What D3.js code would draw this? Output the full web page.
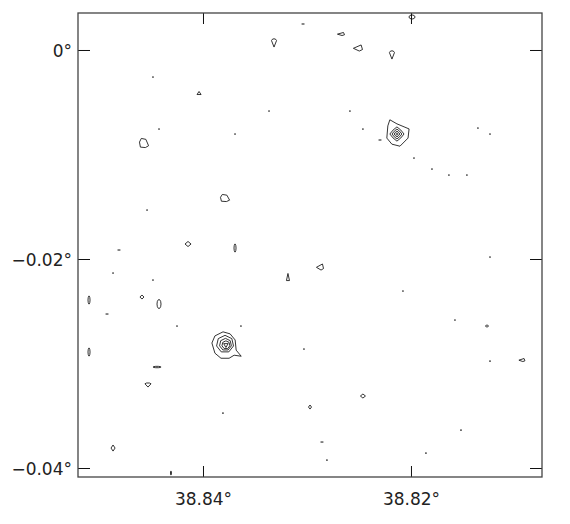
<!DOCTYPE html>
<html>
<head>
<meta charset="utf-8">
<script src="https://cdn.jsdelivr.net/npm/d3@7"></script>
<style>
  body { margin: 0; background: #fff; }
  svg { display: block; }
</style>
</head>
<body>
<svg id="chart" width="570" height="524"></svg>
<script>
// ── Ejes (grados) ──
const raDomain  = [38.85202, 38.8074];
const decDomain = [0.00354, -0.04086];
const raTicks   = [38.84, 38.82];
const raLabels  = ["38.84°", "38.82°"];
const decTicks  = [0, -0.02, -0.04];
const decLabels = ["0°", "−0.02°", "−0.04°"];

// ── Fuentes brillantes: centro (ra, dec), contorno exterior (offsets en arcsec), anillos [r, dRA, dDec] arcsec ──
const brightCenters = [[38.82135, -0.008039], [38.83788, -0.028136]];
const brightOuter = [
  [[2.45, 4.9], [0, 3.5], [-4.2, 1.75], [-3.85, -1.4], [-1.05, -4.2], [1.75, -3.5], [3.5, -1.4], [3.15, 2.8]],
  [[0.7, 4.2], [-1.75, 3.5], [-3.5, 1.4], [-3.85, -2.1], [-5.6, -4.2], [-3.15, -3.85], [-1.4, -4.9],
   [1.4, -4.9], [3.5, -3.15], [4.55, 0.35], [3.5, 2.8]]
];
const brightRings = [
  [[2.45, 0, 0], [1.7, 0, 0], [1.0, 0, 0], [0.42, 0, 0]],
  [[3.0, 0, 0], [2.1, -0.15, -0.15], [1.4, -0.3, -0.3], [0.77, -0.3, -0.4]]
];
const ringKind = ["diamond", "round"];

// ── Contornos pequeños: [ra, dec, tipo, ancho", alto"] ──
const blobs = [
  [38.83317,  0.00067,  "tD",   1.75, 2.8],
  [38.84038, -0.004115, "tU",   1.4,  1.05],
  [38.84567, -0.0089,   "pent", 3.15, 3.15],
  [38.83788, -0.014164, "pent", 3.15, 2.45],
  [38.84144, -0.018566, "dia",  2.1,  1.75],
  [38.83692, -0.018949, "ell",  0.7,  2.8],
  [38.82673,  0.001531, "tL",   2.45, 1.05],
  [38.82510,  0.000191, "tL",   3.15, 2.1],
  [38.82183, -0.000479, "tD",   1.75, 2.8],
  [38.81990,  0.003158, "ell",  2.1,  1.4],
  [38.83183, -0.021724, "tU",   1.05, 2.45],
  [38.85096, -0.023925, "ell",  0.7,  2.8],
  [38.84587, -0.023638, "dia",  1.4,  1.4],
  [38.84423, -0.024308, "ell",  1.4,  3.15],
  [38.85096, -0.028901, "ell",  0.7,  2.8],
  [38.84442, -0.030337, "ell",  2.8,  0.5],
  [38.84529, -0.03206,  "tD",   2.1,  1.4],
  [38.84865, -0.038089, "dia",  1.4,  2.1],
  [38.84308, -0.040481, "ell",  0.35, 1.4],
  [38.82875, -0.020767, "tL",   2.45, 2.1],
  [38.81269, -0.026413, "ell",  1.05, 0.6],
  [38.80933, -0.029667, "tL",   2.1,  1.05],
  [38.82462, -0.033112, "dia",  1.75, 1.4],
  [38.82971, -0.034165, "dia",  1.05, 1.4]
];

// ── Puntos y trazos mínimos: [ra, dec] ──
const dots = [
  [38.84481, -0.002584], [38.83365, -0.005838], [38.84423, -0.00756], [38.83692, -0.008039],
  [38.84538, -0.015312], [38.82587, -0.005838], [38.82462, -0.00756], [38.81971, -0.010336],
  [38.81798, -0.011388], [38.81635, -0.011963], [38.81462, -0.011963], [38.81356, -0.007465],
  [38.81240, -0.008039], [38.81240, -0.01981],  [38.84865, -0.021341], [38.84481, -0.022011],
  [38.8425,  -0.026413], [38.83635, -0.026413], [38.83808, -0.034739], [38.82077, -0.023064],
  [38.81577, -0.025839], [38.83029, -0.028614], [38.8124,  -0.029763], [38.82808, -0.039237],
  [38.81856, -0.038567], [38.81519, -0.036366]
];
const dashes = [
  [38.84808, -0.01914], [38.83038, 0.002488], [38.82298, -0.008613],
  [38.84923, -0.025265], [38.82856, -0.037514]
];

const svg = d3.select("#chart");
const M = { left: 78, right: 542, top: 13, bottom: 477 };
const x = d3.scaleLinear().domain(raDomain).range([M.left, M.right]);
const y = d3.scaleLinear().domain(decDomain).range([M.top, M.bottom]);

// plantillas de forma (unidad, x a la derecha, y hacia abajo)
const ellT = d3.range(10).map(i => [Math.cos(i / 10 * 2 * Math.PI), Math.sin(i / 10 * 2 * Math.PI)]);
const shapes = {
  tD:   [[-1, -0.6], [-0.5, -1], [0.5, -1], [1, -0.6], [0, 1]],
  tU:   [[0, -1], [1, 1], [-1, 1]],
  tL:   [[-1, 0.1], [0.7, -1], [1, 0.5], [0.3, 1]],
  dia:  [[0, -1], [1, 0], [0, 1], [-1, 0]],
  pent: [[-0.6, -1], [0.4, -0.8], [1, 0.6], [0.3, 1], [-0.8, 0.9], [-1, -0.2]],
  ell:  ellT
};

const line = d3.line().curve(d3.curveLinearClosed);
const g = svg.append("g")
  .attr("fill", "none").attr("stroke", "#111").attr("stroke-width", 0.85)
  .attr("stroke-linejoin", "round");

// Contornos pequeños
g.selectAll("path.blob").data(blobs).join("path")
  .attr("class", "blob")
  .attr("d", d => line(shapes[d[2]].map(([ux, uy]) => [
    x(d[0] - ux * d[3] / 2 / 3600),
    y(d[1] - uy * d[4] / 2 / 3600)
  ])));

// Fuentes brillantes
brightCenters.forEach(([ra0, dec0], i) => {
  g.append("path")
    .attr("d", line(brightOuter[i].map(([dr, dd]) => [x(ra0 + dr / 3600), y(dec0 + dd / 3600)])));

  brightRings[i].forEach(([r, dr, dd], k) => {
    let tmpl;
    if (ringKind[i] === "diamond") {
      tmpl = d3.range(8).map(j => {
        const a = j / 8 * 2 * Math.PI - Math.PI / 2;
        const f = j % 2 ? 0.78 : 1;
        return [Math.cos(a) * f, Math.sin(a) * f];
      });
    } else if (k === brightRings[i].length - 1) {
      tmpl = [[-1, -0.7], [1, -0.7], [0, 1]];
    } else {
      tmpl = d3.range(7).map(j => {
        const a = j / 7 * 2 * Math.PI - Math.PI / 2;
        return [Math.cos(a), Math.sin(a)];
      });
    }
    g.append("path")
      .attr("d", line(tmpl.map(([ux, uy]) => [
        x(ra0 + dr / 3600 - ux * r / 3600),
        y(dec0 + dd / 3600 - uy * r / 3600)
      ])));
  });
});

// Puntos
svg.append("g").selectAll("circle").data(dots).join("circle")
  .attr("cx", d => x(d[0])).attr("cy", d => y(d[1]))
  .attr("r", 0.85).attr("fill", "#222");

// Trazos
svg.append("g").selectAll("line").data(dashes).join("line")
  .attr("x1", d => x(d[0] + 0.5 / 3600)).attr("x2", d => x(d[0] - 0.5 / 3600))
  .attr("y1", d => y(d[1])).attr("y2", d => y(d[1]))
  .attr("stroke", "#222").attr("stroke-width", 1.1);

// ── Marco y ticks ──
const font = "'DejaVu Sans', sans-serif";
function styleAxis(sel, showText) {
  sel.select(".domain").remove();
  sel.selectAll(".tick line").attr("stroke", "#111").attr("stroke-width", 1);
  if (!showText) sel.selectAll(".tick text").remove();
  sel.selectAll(".tick text")
    .attr("font-family", font).attr("font-size", 17).attr("fill", "#222");
}

svg.append("g").attr("transform", `translate(0,${M.bottom})`)
  .call(d3.axisBottom(x).tickValues(raTicks).tickSize(-11).tickFormat((d, i) => raLabels[i]))
  .call(s => styleAxis(s, true))
  .call(s => s.selectAll(".tick text").attr("y", 28).attr("dy", 0));

svg.append("g").attr("transform", `translate(0,${M.top})`)
  .call(d3.axisTop(x).tickValues(raTicks).tickSize(-11))
  .call(s => styleAxis(s, false));

svg.append("g").attr("transform", `translate(${M.left},0)`)
  .call(d3.axisLeft(y).tickValues(decTicks).tickSize(-12).tickPadding(6).tickFormat((d, i) => decLabels[i]))
  .call(s => styleAxis(s, true))
  .call(s => s.selectAll(".tick text").attr("dy", "0.4em"));

svg.append("g").attr("transform", `translate(${M.right},0)`)
  .call(d3.axisRight(y).tickValues(decTicks).tickSize(-12))
  .call(s => styleAxis(s, false));

svg.append("rect")
  .attr("x", M.left).attr("y", M.top)
  .attr("width", M.right - M.left).attr("height", M.bottom - M.top)
  .attr("fill", "none").attr("stroke", "#444").attr("stroke-width", 1.3);
</script>
</body>
</html>
